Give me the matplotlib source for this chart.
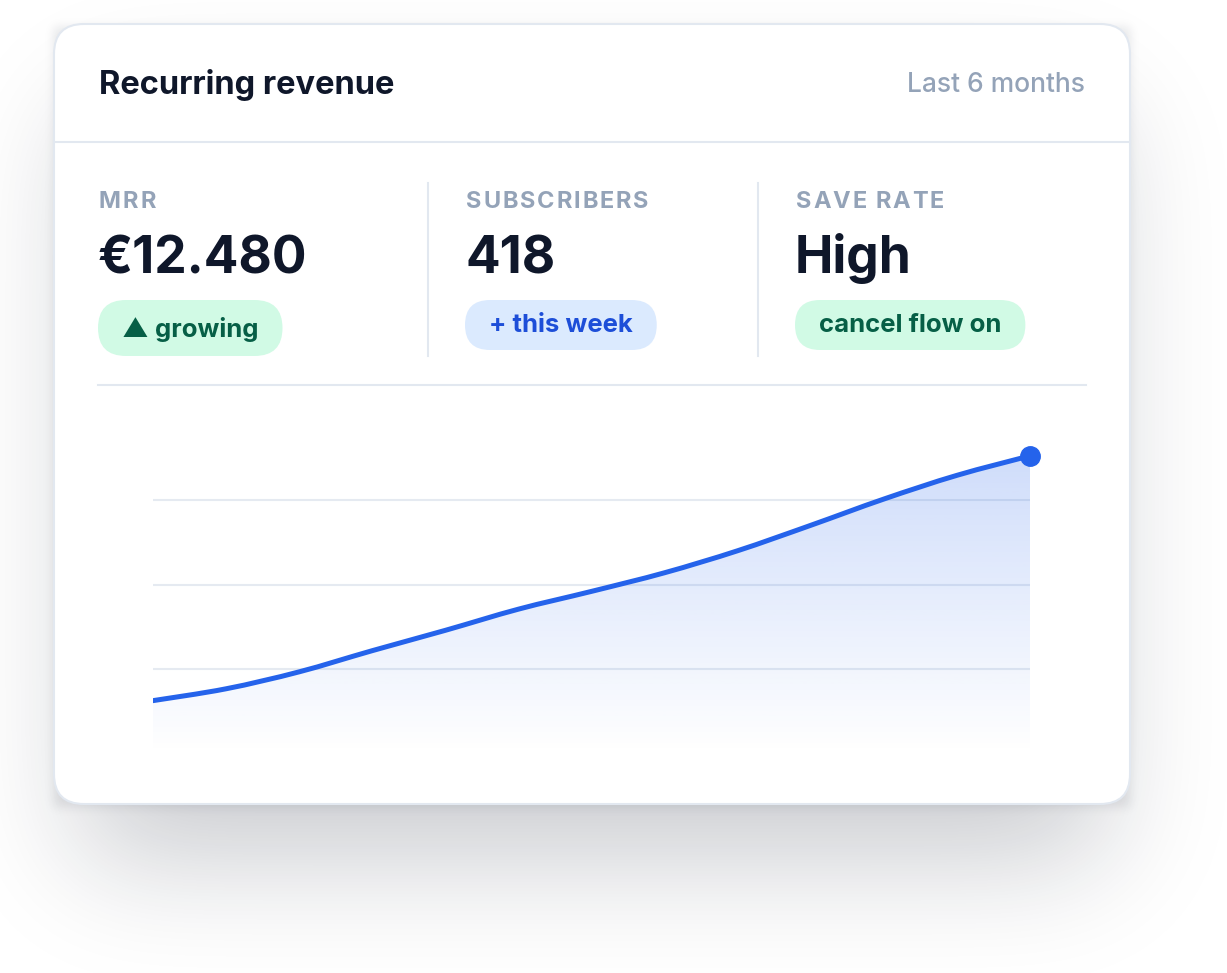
import math

import matplotlib
matplotlib.use("Agg")
import matplotlib.pyplot as plt
import numpy as np
from matplotlib.patches import FancyBboxPatch, PathPatch
from matplotlib.path import Path

plt.rcParams["font.family"] = ["Inter", "DejaVu Sans"]

# ---- data ----
TITLE = "Recurring revenue"
PERIOD = "Last 6 months"

KPI_LABELS = ["MRR", "SUBSCRIBERS", "SAVE RATE"]
KPI_VALUES = ["€12.480", "418", "High"]
KPI_BADGES = ["▲ growing", "+ this week", "cancel flow on"]
KPI_TONES = ["green", "blue", "green"]

# revenue trend, sampled every half month (arbitrary index units, gridlines at 1/2/3)
MONTHS = [0.0, 0.5, 1.0, 1.5, 2.0, 2.5, 3.0, 3.5, 4.0, 4.5, 5.0, 5.5, 6.0]
REVENUE_INDEX = [0.63, 0.77, 0.97, 1.22, 1.46, 1.71, 1.92, 2.14, 2.40, 2.70, 3.01, 3.29, 3.52]
GRID_LEVELS = [1, 2, 3]

# ---- style ----
W, H = 1227, 973
INK = "#0f172a"
MUTED = "#94a3b8"
BORDER = "#e2e8f0"
BLUE = "#2563eb"
TONES = {
    "green": ("#d1fae5", "#065f46"),
    "blue": ("#dbeafe", "#1d4ed8"),
}
CARD = (54, 24, 1130, 804)   # left, top, right, bottom in px


def blurred_box(coords, lo, hi, sigma):
    erf = np.vectorize(math.erf)
    s = math.sqrt(2) * sigma
    return 0.5 * (erf((coords - lo) / s) - erf((coords - hi) / s))


def shadow_layer(box, sigma, alpha):
    xs = np.arange(W) + 0.5
    ys = np.arange(H) + 0.5
    a = np.outer(blurred_box(ys, box[1], box[3], sigma), blurred_box(xs, box[0], box[2], sigma))
    img = np.zeros((H, W, 4))
    img[..., 0], img[..., 1], img[..., 2] = 15 / 255, 23 / 255, 42 / 255
    img[..., 3] = a * alpha
    return img


def spaced_text(ax, x, y, s, tracking, renderer, **kw):
    # matplotlib has no letter-spacing, so lay the caps out one by one
    space_w = kw.get("fontsize", 12) / 0.72 * 0.2
    for ch in s:
        if ch == " ":
            x += space_w + tracking
            continue
        t = ax.text(x, y, ch, **kw)
        x += t.get_window_extent(renderer).width + tracking


def smooth_path(xs, ys):
    # catmull-rom through the points, drawn as cubic beziers
    pts = np.column_stack([xs, ys])
    ext = np.vstack([pts[0], pts, pts[-1]])
    verts, codes = [pts[0]], [Path.MOVETO]
    for i in range(1, len(ext) - 2):
        p0, p1, p2, p3 = ext[i - 1], ext[i], ext[i + 1], ext[i + 2]
        verts += [p1 + (p2 - p0) / 6, p2 - (p3 - p1) / 6, p2]
        codes += [Path.CURVE4] * 3
    return verts, codes


fig = plt.figure(figsize=(W / 100, H / 100), dpi=100, facecolor="white")
bg = fig.add_axes([0, 0, 1, 1])
bg.axis("off")

# soft drop shadow + tight contact shadow
bg.imshow(shadow_layer((80, 110, 1104, 860), 60, 0.22), extent=[0, W, H, 0], zorder=0, aspect="auto")
bg.imshow(shadow_layer((CARD[0], CARD[1] + 3, CARD[2], CARD[3] + 3), 5, 0.10),
          extent=[0, W, H, 0], zorder=0.5, aspect="auto")
bg.set_xlim(0, W)
bg.set_ylim(H, 0)

card = FancyBboxPatch((CARD[0], CARD[1]), CARD[2] - CARD[0], CARD[3] - CARD[1],
                      boxstyle="round,pad=0,rounding_size=30",
                      facecolor="white", edgecolor=BORDER, linewidth=1.5, zorder=1)
bg.add_patch(card)

# header
bg.text(99, 85, TITLE, fontsize=23.5, fontweight="bold", color=INK, va="center", ha="left", zorder=3)
bg.text(1085, 85, PERIOD, fontsize=19, fontweight="medium", color=MUTED, va="center", ha="right", zorder=3)
bg.plot([CARD[0], CARD[2]], [142, 142], color=BORDER, lw=1.5, zorder=2)

# KPI columns
renderer = fig.canvas.get_renderer()
col_x = [99, 466, 796]
for x0, label, value, badge, tone in zip(col_x, KPI_LABELS, KPI_VALUES, KPI_BADGES, KPI_TONES):
    spaced_text(bg, x0, 208, label, 1.9, renderer, fontsize=17, fontweight="bold", color=MUTED,
                va="baseline", ha="left", zorder=3)
    bg.text(x0 - 1, 273, value, fontsize=37, fontweight="bold", color=INK, va="baseline", ha="left", zorder=3)
    fill, ink = TONES[tone]
    top, bottom = (300, 356) if badge.startswith("▲") else (300, 350)
    t = bg.text(x0 - 1 + 24, (top + bottom) / 2 + 1, badge, fontsize=18.5, fontweight="bold", color=ink,
                va="center", ha="left", zorder=4)
    bb = t.get_window_extent(renderer)
    pill_w = bb.width + 48
    h = bottom - top
    bg.add_patch(FancyBboxPatch((x0 - 1, top), pill_w, h,
                                boxstyle=f"round,pad=0,rounding_size={h / 2}",
                                facecolor=fill, edgecolor="none", zorder=3))

for sx in (428, 758):
    bg.plot([sx, sx], [183, 356], color=BORDER, lw=1.5, zorder=2)
bg.plot([98, 1086], [385, 385], color=BORDER, lw=1.5, zorder=2)

# ---- trend chart ----
px_left, px_right, px_base, px_per_unit = 153, 1030, 754, 84.7
y_max = 4.0
ax = fig.add_axes([px_left / W, (H - px_base) / H, (px_right - px_left) / W, y_max * px_per_unit / H])
ax.set_facecolor("none")

verts, codes = smooth_path(MONTHS, REVENUE_INDEX)
line_path = Path(verts, codes)
area_path = Path(verts + [(MONTHS[-1], 0), (MONTHS[0], 0), (MONTHS[0], 0)],
                 codes + [Path.LINETO, Path.LINETO, Path.CLOSEPOLY])

grad = np.zeros((256, 1, 4))
grad[..., :3] = matplotlib.colors.to_rgb(BLUE)
grad[:, 0, 3] = np.linspace(0.22, 0.0, 256)
img = ax.imshow(grad, extent=[MONTHS[0], MONTHS[-1], 0, max(REVENUE_INDEX)], aspect="auto",
                origin="upper", zorder=1)
img.set_clip_path(area_path, ax.transData)

ax.add_patch(PathPatch(line_path, fill=False, edgecolor=BLUE, lw=3.6, capstyle="round",
                       joinstyle="round", zorder=3))
ax.plot(MONTHS[-1:], REVENUE_INDEX[-1:], "o", color=BLUE, markersize=14, clip_on=False, zorder=4)

ax.set_xlim(MONTHS[0], MONTHS[-1])
ax.set_ylim(0, y_max)
ax.set_yticks(GRID_LEVELS)
ax.set_xticks([])
ax.yaxis.grid(True, color="#e5eaf1", linewidth=1.5)
ax.set_axisbelow(True)
ax.tick_params(length=0, labelleft=False)
for spine in ax.spines.values():
    spine.set_visible(False)

fig.savefig("out.png", dpi=100, facecolor="white")
